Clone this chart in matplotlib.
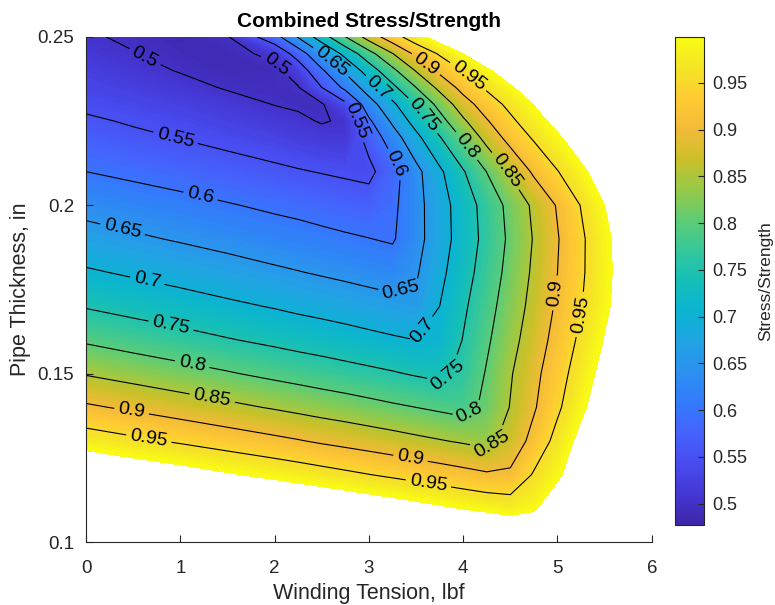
import numpy as np
import matplotlib
matplotlib.use("Agg")
import matplotlib.pyplot as plt
from matplotlib.colors import LinearSegmentedColormap, Normalize
from matplotlib.cm import ScalarMappable

plt.rcParams["font.family"] = ["Liberation Sans", "DejaVu Sans"]

## ************      data       **************************************
tension = [0, 0.5, 1, 1.5, 2, 2.25, 2.5, 2.75, 3, 3.25, 3.5, 3.75, 4, 4.25, 4.5, 4.75, 5, 5.25, 5.5, 5.75, 6]
thickness = [0.25, 0.245, 0.24, 0.235, 0.23, 0.225, 0.22, 0.21, 0.20, 0.19, 0.18,
             0.17, 0.16, 0.15, 0.14, 0.13, 0.12, 0.11, 0.10]

# stress/strength, one row per thickness, one column per tension (above 1 is left blank)
ratio = [
    [0.503, 0.496, 0.484, 0.497, 0.581, 0.654, 0.726, 0.799, 0.871, 0.929, 0.978, 1.027, 1.076, 1.125, 1.174, 1.223, 1.272, 1.321, 1.370, 1.419, 1.468],
    [0.512, 0.501, 0.490, 0.487, 0.510, 0.572, 0.648, 0.714, 0.782, 0.848, 0.911, 0.955, 1.000, 1.043, 1.086, 1.129, 1.172, 1.215, 1.258, 1.301, 1.344],
    [0.523, 0.511, 0.498, 0.488, 0.490, 0.520, 0.593, 0.658, 0.723, 0.788, 0.853, 0.911, 0.952, 0.992, 1.032, 1.073, 1.113, 1.153, 1.194, 1.234, 1.274],
    [0.532, 0.522, 0.511, 0.497, 0.493, 0.498, 0.550, 0.612, 0.675, 0.738, 0.800, 0.863, 0.917, 0.957, 0.994, 1.031, 1.068, 1.105, 1.142, 1.179, 1.216],
    [0.542, 0.534, 0.525, 0.513, 0.499, 0.494, 0.496, 0.540, 0.628, 0.690, 0.753, 0.815, 0.878, 0.925, 0.963, 1.002, 1.040, 1.078, 1.117, 1.155, 1.194],
    [0.556, 0.546, 0.537, 0.526, 0.513, 0.508, 0.497, 0.505, 0.592, 0.658, 0.720, 0.781, 0.842, 0.896, 0.940, 0.979, 1.016, 1.054, 1.093, 1.131, 1.169],
    [0.569, 0.558, 0.549, 0.538, 0.528, 0.520, 0.515, 0.511, 0.566, 0.626, 0.686, 0.746, 0.806, 0.866, 0.917, 0.955, 0.992, 1.030, 1.068, 1.106, 1.144],
    [0.600, 0.590, 0.580, 0.569, 0.558, 0.553, 0.548, 0.543, 0.538, 0.581, 0.636, 0.691, 0.746, 0.801, 0.856, 0.908, 0.948, 0.989, 1.029, 1.069, 1.110],
    [0.635, 0.624, 0.614, 0.603, 0.592, 0.587, 0.581, 0.576, 0.571, 0.589, 0.634, 0.679, 0.724, 0.769, 0.814, 0.859, 0.904, 0.952, 1.000, 1.048, 1.096],
    [0.668, 0.657, 0.646, 0.635, 0.623, 0.618, 0.612, 0.606, 0.601, 0.595, 0.634, 0.678, 0.722, 0.765, 0.809, 0.853, 0.897, 0.942, 0.987, 1.033, 1.078],
    [0.706, 0.694, 0.682, 0.670, 0.658, 0.652, 0.646, 0.640, 0.634, 0.628, 0.645, 0.688, 0.730, 0.773, 0.815, 0.858, 0.900, 0.943, 0.986, 1.029, 1.072],
    [0.747, 0.734, 0.722, 0.709, 0.697, 0.690, 0.684, 0.678, 0.671, 0.665, 0.659, 0.700, 0.742, 0.783, 0.824, 0.865, 0.907, 0.948, 0.990, 1.032, 1.073],
    [0.794, 0.780, 0.767, 0.753, 0.740, 0.733, 0.727, 0.720, 0.713, 0.706, 0.700, 0.710, 0.752, 0.793, 0.834, 0.875, 0.917, 0.960, 1.003, 1.047, 1.090],
    [0.847, 0.832, 0.818, 0.804, 0.789, 0.782, 0.775, 0.768, 0.761, 0.754, 0.746, 0.739, 0.763, 0.804, 0.846, 0.887, 0.930, 0.974, 1.018, 1.061, 1.105],
    [0.907, 0.892, 0.876, 0.861, 0.846, 0.838, 0.830, 0.823, 0.815, 0.807, 0.800, 0.792, 0.784, 0.810, 0.852, 0.895, 0.942, 0.989, 1.036, 1.083, 1.130],
    [0.977, 0.960, 0.944, 0.927, 0.911, 0.903, 0.894, 0.886, 0.878, 0.870, 0.861, 0.853, 0.845, 0.836, 0.869, 0.916, 0.966, 1.016, 1.066, 1.116, 1.166],
    [1.058, 1.040, 1.023, 1.005, 0.987, 0.978, 0.969, 0.960, 0.951, 0.942, 0.933, 0.924, 0.915, 0.906, 0.908, 0.955, 0.990, 1.040, 1.090, 1.140, 1.190],
    [1.155, 1.135, 1.116, 1.096, 1.076, 1.067, 1.057, 1.047, 1.037, 1.028, 1.018, 1.008, 0.998, 0.989, 0.979, 0.993, 1.040, 1.090, 1.140, 1.190, 1.240],
    [1.270, 1.249, 1.227, 1.206, 1.184, 1.173, 1.163, 1.152, 1.141, 1.130, 1.120, 1.109, 1.098, 1.087, 1.077, 1.066, 1.110, 1.160, 1.210, 1.260, 1.310],
]

line_levels = [0.5, 0.55, 0.6, 0.65, 0.7, 0.75, 0.8, 0.85, 0.9, 0.95]
cbar_ticks = [0.5, 0.55, 0.6, 0.65, 0.7, 0.75, 0.8, 0.85, 0.9, 0.95]

# where the inline labels sit
label_spots = {
    0.5: [(0.60, 0.2426), (2.0, 0.2414)],
    0.55: [(0.94, 0.2188), (2.86, 0.225)],
    0.6: [(1.21, 0.2022), (3.31, 0.2126)],
    0.65: [(0.39, 0.1933), (2.59, 0.2423), (3.31, 0.1769)],
    0.7: [(0.66, 0.179), (3.14, 0.236), (3.57, 0.1627)],
    0.75: [(0.91, 0.1656), (3.65, 0.2283), (3.82, 0.1505)],
    0.8: [(1.13, 0.1535), (4.12, 0.2194), (4.05, 0.139)],
    0.85: [(1.34, 0.143), (4.53, 0.212), (4.25, 0.1312)],
    0.9: [(0.48, 0.1383), (3.6, 0.2417), (4.96, 0.174), (3.44, 0.1247)],
    0.95: [(0.66, 0.1297), (4.04, 0.2378), (5.22, 0.1677), (3.63, 0.1172)],
}

# parula
parula = [
    (0.2422, 0.1504, 0.6603), (0.2704, 0.2138, 0.8346), (0.2813, 0.2985, 0.9397),
    (0.2710, 0.3860, 0.9898), (0.2006, 0.4803, 0.9906), (0.1716, 0.5655, 0.9393),
    (0.1288, 0.6408, 0.8910), (0.0433, 0.7039, 0.8242), (0.0770, 0.7468, 0.7224),
    (0.2061, 0.7808, 0.6065), (0.3671, 0.8021, 0.4563), (0.5886, 0.7913, 0.2833),
    (0.7945, 0.7554, 0.1570), (0.9523, 0.7284, 0.2237), (0.9938, 0.7974, 0.1974),
    (0.9601, 0.8963, 0.1507), (0.9769, 0.9839, 0.0805),
]
cmap = LinearSegmentedColormap.from_list("parula", parula, N=256)
norm = Normalize(vmin=0.477, vmax=0.999)
ink = (0.15, 0.15, 0.15)

fig = plt.figure(figsize=(7.75, 6.05), dpi=100)
ax = fig.add_axes([0.111, 0.104, 0.730, 0.835])
cax = fig.add_axes([0.871, 0.132, 0.037, 0.807])

T, H = np.meshgrid(tension, thickness)
Z = np.array(ratio)

ax.set_xlim(0, 6)
ax.set_ylim(0.1, 0.25)

ax.contourf(T, H, Z, levels=np.linspace(0.47, 1.0, 160), cmap=cmap, norm=norm)
# one contour set per level so each label lands on its own line
for lev in line_levels:
    cs = ax.contour(T, H, Z, levels=[lev], colors="k", linewidths=0.8)
    ax.clabel(cs, manual=label_spots[lev], inline=True,
              fmt="%g", fontsize=14, inline_spacing=4)

ax.set_xticks([0, 1, 2, 3, 4, 5, 6])
ax.set_yticks([0.1, 0.15, 0.2, 0.25])
ax.set_yticklabels(["0.1", "0.15", "0.2", "0.25"])
ax.tick_params(direction="in", length=5, width=0.8, labelsize=13.5, colors=ink)
ax.tick_params(axis="x", pad=13)
ax.tick_params(axis="y", pad=8.5)
ax.spines["top"].set_visible(False)
ax.spines["right"].set_visible(False)
ax.spines["left"].set_color(ink)
ax.spines["bottom"].set_color(ink)
ax.set_xlabel("Winding Tension, lbf", fontsize=15.5, color=ink, labelpad=4)
ax.set_ylabel("Pipe Thickness, in", fontsize=15.5, color=ink, labelpad=4.5)
ax.set_title("Combined Stress/Strength", fontsize=15, fontweight="bold", pad=7)

cb = fig.colorbar(ScalarMappable(norm=norm, cmap=cmap), cax=cax, ticks=cbar_ticks)
cb.ax.set_yticklabels([f"{t:g}" for t in cbar_ticks])
cb.ax.tick_params(direction="in", length=4, width=0.8, labelsize=13, colors=ink, pad=6)
cb.outline.set_edgecolor(ink)
cb.outline.set_linewidth(0.8)
cb.set_label("Stress/Strength", fontsize=12.5, color=ink, labelpad=8)

fig.savefig("out.png", dpi=100)
